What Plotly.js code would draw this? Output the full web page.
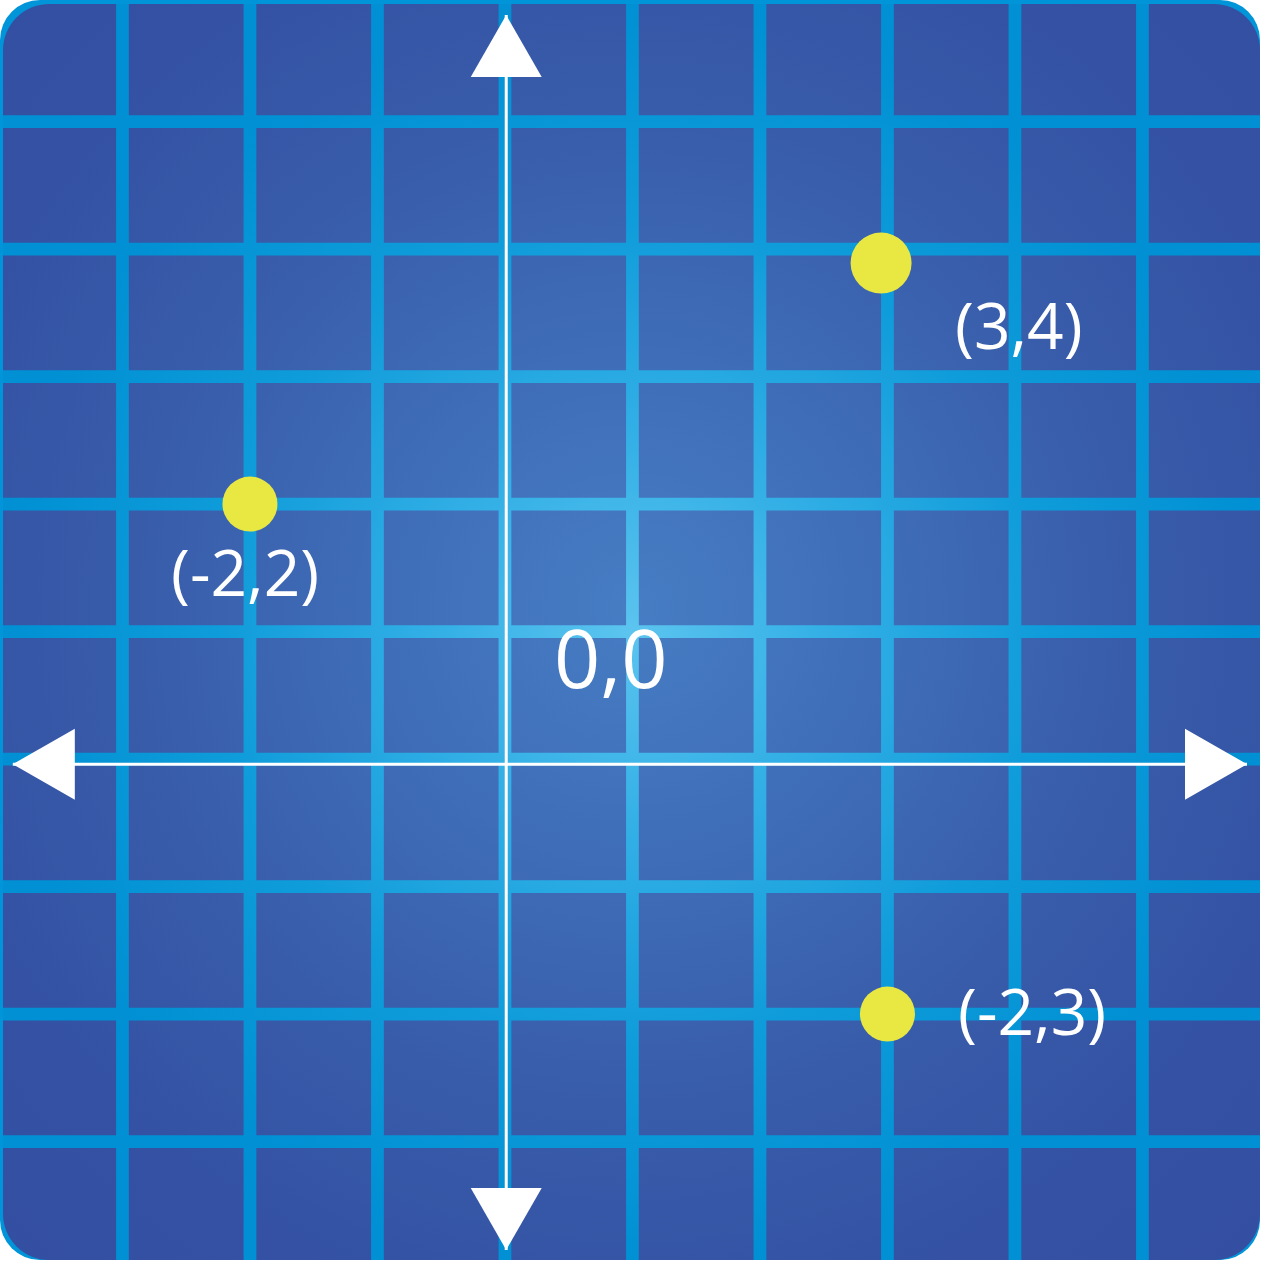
<!DOCTYPE html>
<html>
<head>
<meta charset="utf-8">
<script src="https://cdn.plot.ly/plotly-3.0.1.min.js"></script>
<style>
  html, body { margin: 0; padding: 0; background: #ffffff; }
  #frame {
    position: absolute; left: 0; top: 0;
    width: 1260px; height: 1260px;
    border-radius: 40px;
    background: #0095d8;
  }
  #inner {
    position: absolute; left: 3px; top: 4px;
    width: 1257px; height: 1256px;
    border-radius: 46px;
    overflow: hidden;
    background: radial-gradient(circle at 50% 48%, #467dc3 0%, #3f6db8 28%, #385caa 55%, #3451a3 80%, #344fa2 100%);
  }
</style>
</head>
<body>
<div id="frame"><div id="inner"><div id="chart"></div></div></div>
<script>
// ── Dados ─────────────────────────────────────────────────
const gridTicks   = [-3, -2, -1, 0, 1, 2, 3, 4, 5];
const pointX      = [2.95, -2.0, 3.0];
const pointY      = [3.89, 2.0, -2.0];
const pointLabels = ['(3,4)', '(-2,2)', '(-2,3)'];
const originLabel = '0,0';

// ── Estilo ────────────────────────────────────────────────
const X_RANGE   = [-3.937, 5.922];
const Y_RANGE   = [-3.929, 5.922];
const GRID_HW   = 0.05;     // meia espessura da grade, em unidades
const GRID_SCALE = [[0, '#5cc4ef'], [0.3, '#34b0e6'], [0.65, '#0f9cda'], [1, '#0090d3']];
const DOT       = '#e9e843';
const DOT_SIZES = [61, 55, 55];
const LABEL_OFF = [[138, -61], [-5, -67], [145, 4]];   // px (xshift, yshift)
const AXIS_X    = 0.01;     // eixo vertical
const AXIS_Y    = -0.04;    // eixo horizontal
const TIPS      = { top: 5.835, bottom: -3.85, left: -3.86, right: 5.82 };
const HEAD_L = 62, HEAD_W = 35.5;

// Grade como faixas preenchidas (permite gradiente radial)
function buildGridTrace() {
  const xLo = X_RANGE[0] - 0.05, xHi = X_RANGE[1] + 0.05;
  const yLo = Y_RANGE[0] - 0.05, yHi = Y_RANGE[1] + 0.05;
  const h = GRID_HW;
  const gx = [], gy = [];
  for (const t of gridTicks) {
    gx.push(t - h, t + h, t + h, t - h, t - h, null);
    gy.push(yLo, yLo, yHi, yHi, yLo, null);
  }
  for (const t of gridTicks) {
    gx.push(xLo, xHi, xHi, xLo, xLo, null);
    gy.push(t - h, t - h, t + h, t + h, t - h, null);
  }
  return {
    x: gx, y: gy, type: 'scatter', mode: 'lines',
    line: { width: 0 }, fill: 'toself',
    fillcolor: '#17a0dc',
    fillgradient: { type: 'radial', colorscale: GRID_SCALE },
    hoverinfo: 'skip',
  };
}

function axisOpts(range) {
  return {
    range, fixedrange: true,
    showticklabels: false, ticks: '',
    showgrid: false, zeroline: false, showline: false,
  };
}

function arrowHead(xanchor, yanchor, path) {
  return {
    type: 'path', xref: 'x', yref: 'y',
    xsizemode: 'pixel', ysizemode: 'pixel', xanchor, yanchor,
    path, fillcolor: '#ffffff', line: { width: 0 },
  };
}

const shapes = [
  { type: 'line', x0: AXIS_X, x1: AXIS_X, y0: TIPS.bottom, y1: TIPS.top,
    line: { color: '#ffffff', width: 3 } },
  { type: 'line', x0: TIPS.left, x1: TIPS.right, y0: AXIS_Y, y1: AXIS_Y,
    line: { color: '#ffffff', width: 3 } },
  arrowHead(AXIS_X, TIPS.top,    `M0,0 L${HEAD_W},-${HEAD_L} L-${HEAD_W},-${HEAD_L} Z`),
  arrowHead(AXIS_X, TIPS.bottom, `M0,0 L${HEAD_W},${HEAD_L} L-${HEAD_W},${HEAD_L} Z`),
  arrowHead(TIPS.left, AXIS_Y,   `M0,0 L${HEAD_L},${HEAD_W} L${HEAD_L},-${HEAD_W} Z`),
  arrowHead(TIPS.right, AXIS_Y,  `M0,0 L-${HEAD_L},${HEAD_W} L-${HEAD_L},-${HEAD_W} Z`),
];

const labelFont = { family: 'Open Sans, sans-serif', size: 64, color: '#ffffff' };

const annotations = pointLabels.map((t, i) => ({
  x: pointX[i], y: pointY[i], xref: 'x', yref: 'y',
  text: t, showarrow: false, font: labelFont,
  xanchor: 'center', yanchor: 'middle',
  xshift: LABEL_OFF[i][0], yshift: LABEL_OFF[i][1],
}));
annotations.push({
  x: 0, y: 0, xref: 'x', yref: 'y', text: originLabel, showarrow: false,
  font: { ...labelFont, size: 81 },
  xanchor: 'center', yanchor: 'middle', xshift: 106, yshift: 103,
});

const dots = {
  x: pointX, y: pointY, type: 'scatter', mode: 'markers',
  marker: { color: DOT, size: DOT_SIZES, opacity: 1, line: { width: 0 } },
  hoverinfo: 'skip',
};

const layout = {
  width: 1257, height: 1256,
  margin: { t: 0, b: 0, l: 0, r: 0 },
  paper_bgcolor: 'rgba(0,0,0,0)',
  plot_bgcolor:  'rgba(0,0,0,0)',
  showlegend: false,
  xaxis: axisOpts(X_RANGE),
  yaxis: axisOpts(Y_RANGE),
  shapes, annotations,
};

Plotly.newPlot('chart', [buildGridTrace(), dots], layout, { displayModeBar: false, staticPlot: true });
</script>
</body>
</html>
